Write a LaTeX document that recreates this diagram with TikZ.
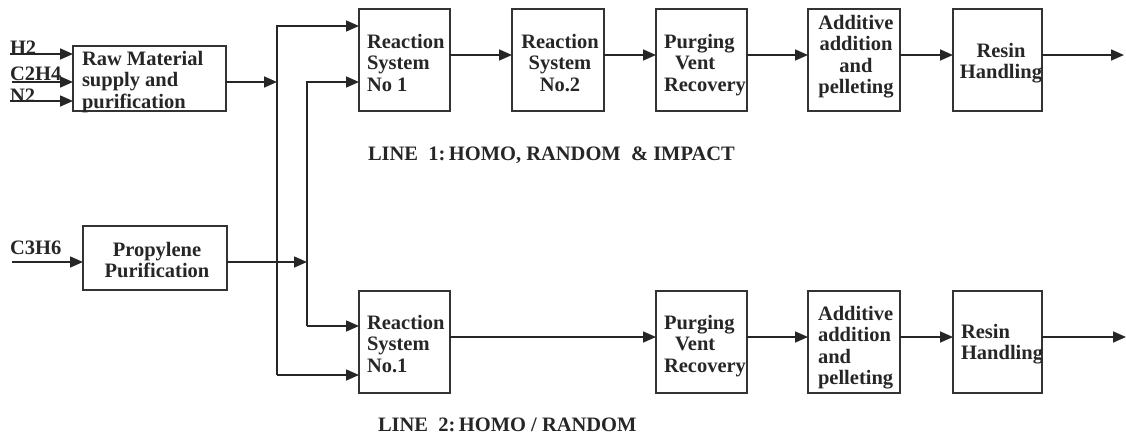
\documentclass[tikz,border=0pt]{standalone}
\usepackage{fontspec}
\setmainfont{Liberation Serif}
\usetikzlibrary{arrows.meta}
\begin{document}
\begin{tikzpicture}[x=1pt,y=1pt,
  every node/.style={inner sep=0pt,outer sep=0pt,text=black!85,font=\fontsize{20.5}{21.5}\selectfont\bfseries},
  blk/.style={draw=black!80,line width=1.7pt,rectangle},
  txt/.style={align=left},
  ctxt/.style={align=center},
  ln/.style={draw=black!85,line width=1.6pt},
  arr/.style={ln,-{Triangle[length=13pt,width=11pt]}}]
\useasboundingbox (0,0) rectangle (1126,-434);
% boxes
\node[blk,minimum width=153pt,minimum height=65pt,anchor=north west] (raw) at (73,-46) {};
\node[blk,minimum width=144pt,minimum height=64pt,anchor=north west] (pro) at (83,-226) {};
\node[blk,minimum width=91pt,minimum height=102pt,anchor=north west] (rs1t) at (359,-9) {};
\node[blk,minimum width=92pt,minimum height=102pt,anchor=north west] (rs2t) at (512,-9) {};
\node[blk,minimum width=91pt,minimum height=102pt,anchor=north west] (pvt) at (656,-9) {};
\node[blk,minimum width=92pt,minimum height=102pt,anchor=north west] (adt) at (808,-9) {};
\node[blk,minimum width=89pt,minimum height=102pt,anchor=north west] (rht) at (953,-9) {};
\node[blk,minimum width=91pt,minimum height=102pt,anchor=north west] (rs1b) at (359,-291) {};
\node[blk,minimum width=91pt,minimum height=102pt,anchor=north west] (pvb) at (656,-291) {};
\node[blk,minimum width=92pt,minimum height=102pt,anchor=north west] (adb) at (808,-291) {};
\node[blk,minimum width=89pt,minimum height=102pt,anchor=north west] (rhb) at (953,-291) {};
% box texts
\node[txt,anchor=north west] (rawtx) at (82,-51) {Raw Material\\supply and\\purification};
\node[ctxt,anchor=north] (protx) at (157,-242) {Propylene\\Purification};
\node[txt,anchor=north west] (rs1ttx) at (367,-34) {Reaction\\System\\No 1};
\node[ctxt,anchor=north] (rs2ttx) at (560,-34) {Reaction\\System\\No.2};
\node[txt,anchor=north west] (pvttx) at (664,-34) {Purging\\\hspace{11pt}Vent\\Recovery};
\node[ctxt,anchor=north] (adttx) at (856,-15) {Additive\\addition\\and\\pelleting};
\node[ctxt,anchor=north] (rhttx) at (1001,-43) {Resin\\Handling};
\node[txt,anchor=north west] (rs1btx) at (367,-315) {Reaction\\System\\No.1};
\node[txt,anchor=north west] (pvbtx) at (664,-315) {Purging\\\hspace{11pt}Vent\\Recovery};
\node[txt,anchor=north west] (adbtx) at (818,-306) {Additive\\addition\\and\\pelleting};
\node[txt,anchor=north west] (rhbtx) at (961,-324) {Resin\\Handling};
% input labels
\node[anchor=base west] (h2) at (10,-54) {H2};
\node[anchor=base west] (c2h4) at (10,-80) {C2H4};
\node[anchor=base west] (n2) at (10,-102) {N2};
\node[anchor=base west] (c3h6) at (10,-254) {C3H6};
\node[anchor=base west] (l1) at (368,-160) {LINE\ \ 1:\,HOMO, RANDOM\ \ \& IMPACT};
\node[anchor=base west] (l2) at (378,-431) {LINE\ \ 2:\,HOMO / RANDOM};
% coordinates
\coordinate (ih2) at (10,-54);
\coordinate (ic2) at (12,-82);
\coordinate (in2) at (10,-101);
\coordinate (ic3) at (12,-262);
\coordinate (b1t) at (277,-26);
\coordinate (b1b) at (277,-375);
\coordinate (b2t) at (307,-82);
\coordinate (b2b) at (307,-326);
\coordinate (rowt) at (0,-55);
\coordinate (rowb) at (0,-337);
\coordinate (outt) at (1124,-55);
\coordinate (outb) at (1126,-337);
% inputs
\draw[arr] (ih2) -- (raw.west |- ih2);
\draw[arr] (ic2) -- (raw.west |- ic2);
\draw[arr] (in2) -- (raw.west |- in2);
\draw[arr] (ic3) -- (pro.west |- ic3);
% buses
\draw[arr] (raw.east |- b2t) -- (b1t |- b2t);
\draw[arr] (pro.east |- ic3) -- (b2t |- ic3);
\draw[arr] (b1b) -- (b1t) -- (rs1t.west |- b1t);
\draw[arr] (b1b) -- (rs1b.west |- b1b);
\draw[arr] (b2b) -- (b2t) -- (rs1t.west |- b2t);
\draw[arr] (b2b) -- (rs1b.west |- b2b);
% line 1
\draw[arr] (rs1t.east |- rowt) -- (rs2t.west |- rowt);
\draw[arr] (rs2t.east |- rowt) -- (pvt.west |- rowt);
\draw[arr] (pvt.east |- rowt) -- (adt.west |- rowt);
\draw[arr] (adt.east |- rowt) -- (rht.west |- rowt);
\draw[arr] (rht.east |- rowt) -- (outt);
% line 2
\draw[arr] (rs1b.east |- rowb) -- (pvb.west |- rowb);
\draw[arr] (pvb.east |- rowb) -- (adb.west |- rowb);
\draw[arr] (adb.east |- rowb) -- (rhb.west |- rowb);
\draw[arr] (rhb.east |- rowb) -- (outb);
\end{tikzpicture}
\end{document}
